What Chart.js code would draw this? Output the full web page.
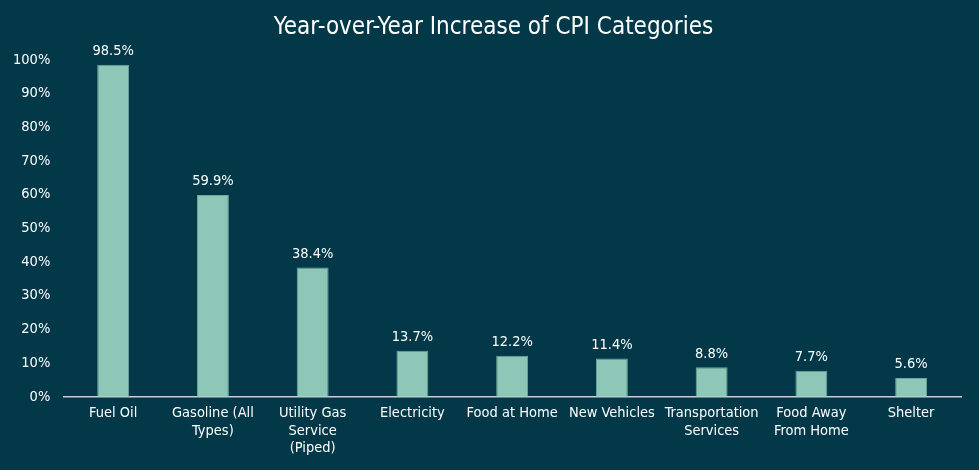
<!DOCTYPE html>
<html>
<head>
<meta charset="utf-8">
<script src="https://cdn.jsdelivr.net/npm/chart.js@4"></script>
<style>
  html, body { margin: 0; padding: 0; background: #023848; }
  #wrap { width: 979px; height: 470px; }
</style>
</head>
<body>
<div id="wrap"><canvas id="cpiChart"></canvas></div>
<script>
const categories = [
  "Fuel Oil",
  ["Gasoline (All", "Types)"],
  ["Utility Gas", "Service", "(Piped)"],
  "Electricity",
  "Food at Home",
  "New Vehicles",
  ["Transportation", "Services"],
  ["Food Away", "From Home"],
  "Shelter"
];
const yoyIncrease = [98.5, 59.9, 38.4, 13.7, 12.2, 11.4, 8.8, 7.7, 5.6];
const yTicks = [0, 10, 20, 30, 40, 50, 60, 70, 80, 90, 100];
const chartTitle = "Year-over-Year Increase of CPI Categories";

const fontFamily = "'DejaVu Sans Condensed', 'DejaVu Sans', sans-serif";

// labels above each bar + title drawn a bit right of the chart title box
const valueLabels = {
  id: "valueLabels",
  afterDatasetsDraw(chart) {
    const ctx = chart.ctx;
    const meta = chart.getDatasetMeta(0);
    ctx.save();
    ctx.fillStyle = "#ffffff";
    ctx.font = "14.5px " + fontFamily;
    ctx.textAlign = "center";
    ctx.textBaseline = "bottom";
    meta.data.forEach((bar, i) => {
      ctx.fillText(yoyIncrease[i].toFixed(1) + "%", bar.x, bar.y - 6);
    });

    const tb = chart.titleBlock;
    ctx.font = "24px " + fontFamily;
    ctx.textBaseline = "middle";
    ctx.fillText(chartTitle, chart.width / 2 + 4, tb.top + 10 + 14);
    ctx.restore();
  }
};

const ctx = document.getElementById("cpiChart").getContext("2d");
new Chart(ctx, {
  type: "bar",
  data: {
    labels: categories,
    datasets: [{
      data: yoyIncrease,
      backgroundColor: "#8cc7b8",
      borderColor: "#6fa89a",
      borderWidth: 1,
      categoryPercentage: 1,
      barPercentage: 0.32
    }]
  },
  options: {
    responsive: true,
    maintainAspectRatio: false,
    animation: false,
    layout: { padding: { left: 0, right: 18, top: 4, bottom: 5 } },
    plugins: {
      legend: { display: false },
      tooltip: { enabled: false },
      title: {
        display: true,
        text: chartTitle,
        color: "rgba(0,0,0,0)",
        font: { family: fontFamily, size: 24, weight: "normal" },
        padding: { top: 10, bottom: 17 }
      }
    },
    scales: {
      x: {
        grid: { display: false, drawTicks: false },
        border: { color: "#c8cfd2", width: 1.5 },
        ticks: {
          color: "#ffffff",
          font: { family: fontFamily, size: 14.5, lineHeight: 1.2 },
          padding: 8,
          maxRotation: 0,
          autoSkip: false
        }
      },
      y: {
        min: 0,
        max: 100,
        afterBuildTicks(axis) {
          axis.ticks = yTicks.map(v => ({ value: v }));
        },
        grid: { display: false, drawTicks: false },
        border: { display: false },
        ticks: {
          color: "#ffffff",
          font: { family: fontFamily, size: 14.5 },
          padding: 13,
          callback: v => v + "%"
        }
      }
    }
  },
  plugins: [valueLabels]
});
</script>
</body>
</html>
